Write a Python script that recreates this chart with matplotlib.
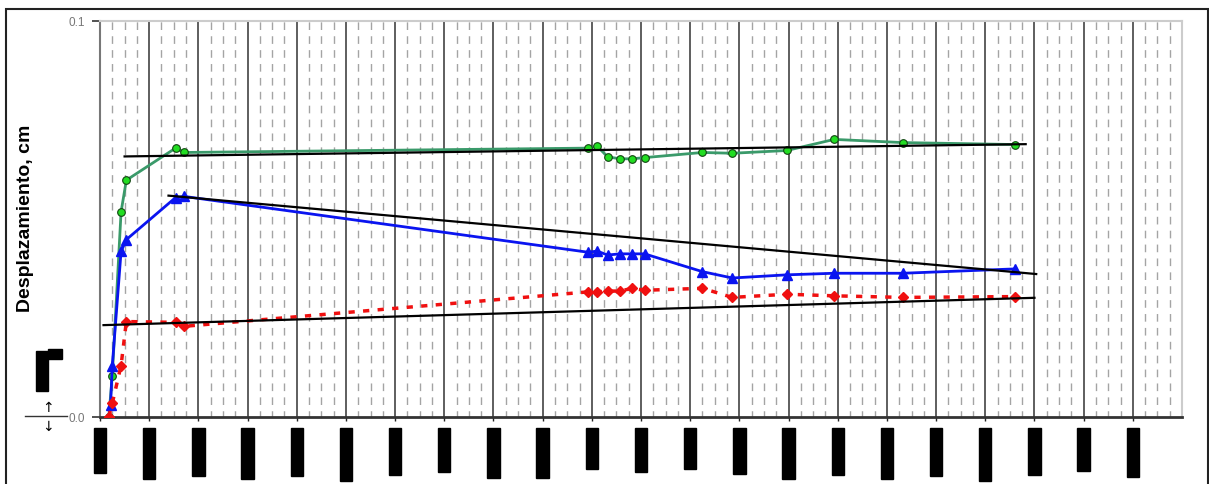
import numpy as np
import matplotlib.pyplot as plt
from matplotlib.lines import Line2D
from matplotlib.patches import Rectangle

# Lecturas (dias desde el inicio) y desplazamientos en cm
dias = [5, 7, 12, 15, 43, 48, 278, 283, 289, 296, 303, 310, 343, 360, 391, 418, 457, 521]
desp_verde = [0.0, 0.0104, 0.0518, 0.0598, 0.0679, 0.0668, 0.0679, 0.0684, 0.0657, 0.0652,
              0.0652, 0.0655, 0.0668, 0.0666, 0.0673, 0.0701, 0.0693, 0.0688]

dias_azul = [5, 6, 7, 12, 15, 43, 48, 278, 283, 289, 296, 303, 310, 343, 360, 391, 418, 457, 521]
desp_azul = [0.0, 0.0030, 0.0130, 0.0418, 0.0448, 0.0554, 0.0557, 0.0416, 0.0419, 0.0409,
             0.0412, 0.0412, 0.0412, 0.0367, 0.0351, 0.0359, 0.0363, 0.0363, 0.0374]

dias_rojo = [5, 7, 12, 15, 43, 48, 278, 283, 289, 296, 303, 310, 343, 360, 391, 418, 457, 521]
desp_rojo = [0.0, 0.0035, 0.0130, 0.0241, 0.0239, 0.0229, 0.0316, 0.0316, 0.0318, 0.0318,
             0.0325, 0.0320, 0.0325, 0.0302, 0.0310, 0.0306, 0.0302, 0.0304]

# tendencias (inicio, fin)
tend_verde_x = [14, 527]
tend_verde_y = [0.0658, 0.0689]
tend_azul_x = [39, 533]
tend_azul_y = [0.0559, 0.0361]
tend_rojo_x = [2, 532]
tend_rojo_y = [0.0232, 0.0301]

fechas = ["1-ene-19", "29-ene-19", "26-feb-19", "26-mar-19", "23-abr-19", "21-may-19",
          "18-jun-19", "16-jul-19", "13-ago-19", "10-sep-19", "8-oct-19", "5-nov-19",
          "3-dic-19", "31-dic-19", "28-ene-20", "25-feb-20", "24-mar-20", "21-abr-20",
          "19-may-20", "16-jun-20", "14-jul-20", "11-ago-20"]

plt.rcParams['font.family'] = ['Liberation Sans', 'DejaVu Sans']

fig = plt.figure(figsize=(12.09, 4.85), dpi=100)
ax = fig.add_axes([100/1209, 67/485, 1082/1209, 396/485])

# rejilla vertical
for d in range(0, 617, 7):
    if d % 28 == 0:
        ax.axvline(d, color='#333333', lw=1.1, zorder=1)
    else:
        ax.axvline(d, color='#a4a4a4', lw=1.0, ls=(1, (5.5, 4.5)), zorder=1)

ax.plot(dias, desp_verde, color='#3a9a6a', lw=2, marker='o', ms=5.5,
        mfc='#22dd22', mec='#114411', mew=0.8, zorder=4)
ax.plot(dias_azul, desp_azul, color='#0a14f0', lw=2, marker='^', ms=6.5,
        mfc='#0a14f0', mec='#0a14f0', zorder=4)
ax.plot(dias_rojo, desp_rojo, color='#f01010', lw=2.5, ls=(0, (1.8, 2.4)), marker='D', ms=5,
        mfc='#f01010', mec='#f01010', zorder=4)

for tx, ty in [(tend_verde_x, tend_verde_y), (tend_azul_x, tend_azul_y), (tend_rojo_x, tend_rojo_y)]:
    ax.plot(tx, ty, color='black', lw=1.6, zorder=5)

ax.set_xlim(0, 616)
ax.set_ylim(0, 0.1)
ax.set_yticks([0.0, 0.1])
ax.set_yticklabels(["0.0", "0.1"], fontsize=8.5, color='#777777')
ax.tick_params(axis='y', length=6, width=1.2, color='#333333', pad=5)
ax.set_xticks(range(0, 22 * 28, 28))
ax.set_xticklabels(fechas, rotation=90, fontsize=7.5, color='black', va='top')
ax.tick_params(axis='x', length=3, width=1, color='#222222', pad=6)
for lbl in ax.get_xticklabels():
    lbl.set_bbox(dict(facecolor='black', edgecolor='black', pad=0.8))

for s in ['top', 'right']:
    ax.spines[s].set_color('#cccccc')
    ax.spines[s].set_linewidth(1.5)
ax.spines['left'].set_color('#777777')
ax.spines['left'].set_linewidth(1.5)
ax.spines['bottom'].set_color('#333333')
ax.spines['bottom'].set_linewidth(2)

fig.text(26/1209, 1 - 218/485, "Desplazamiento, cm", rotation=90, fontsize=14,
         fontweight='bold', ha='center', va='center')

# leyenda de signos a la izquierda
fig.text(42/1209, 1 - 372/485, "Asiento", rotation=90, fontsize=8, color='black',
         ha='center', va='center', bbox=dict(facecolor='black', edgecolor='black', pad=1))
fig.text(55/1209, 1 - 355/485, "cm", fontsize=6, color='black', ha='center', va='center',
         bbox=dict(facecolor='black', edgecolor='black', pad=1))
fig.add_artist(Line2D([25/1209, 67/1209], [1 - 417/485, 1 - 417/485], color='#333333', lw=1))
fig.text(48/1209, 1 - 408/485, "↑", fontsize=10, ha='center', va='center', family='DejaVu Sans')
fig.text(48/1209, 1 - 427/485, "↓", fontsize=10, ha='center', va='center', family='DejaVu Sans')

# marco exterior
fig.add_artist(Rectangle((6/1209, -0.01), 1202/1209, 1 - 10/485 + 0.01, transform=fig.transFigure,
                         fill=False, edgecolor='#222222', lw=1.5))

fig.savefig("out.png", dpi=100)
